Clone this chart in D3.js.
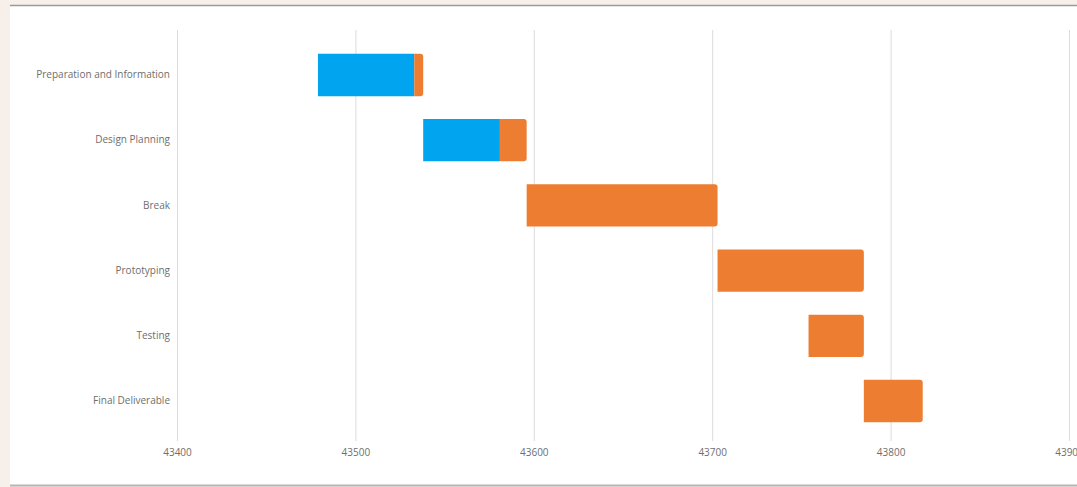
<!DOCTYPE html>
<html>
<head>
<meta charset="utf-8">
<title>Project Gantt</title>
<script src="https://cdn.jsdelivr.net/npm/d3@7"></script>
<style>
  body { margin: 0; background: #f7efe9; }
  svg { display: block; }
  .axis text { font-family: "Open Sans", sans-serif; font-size: 10px; fill: #6e6e6e; }
</style>
</head>
<body>
<div id="chart"></div>
<script>
// tasks (top to bottom)
var tasks = ["Preparation and Information", "Design Planning", "Break",
             "Prototyping", "Testing", "Final Deliverable"];
// start day (hidden series), days done, days remaining
var startDays = [43479, 43538, 43596, 43703, 43754, 43785];
var doneDays = [54, 43, 0, 0, 0, 0];
var remainDays = [5, 15, 107, 82, 31, 33];
var xTicks = [43400, 43500, 43600, 43700, 43800, 43900];

var width = 1077, height = 487;
var colors = { done: "#00a4ef", remain: "#ed7d31" };

var svg = d3.select("#chart").append("svg")
    .attr("width", width)
    .attr("height", height);

// white card with the grey rules at top and bottom
svg.append("rect")
    .attr("x", 10).attr("y", 5)
    .attr("width", width - 10).attr("height", 480)
    .attr("fill", "#fff");
svg.append("line")
    .attr("x1", 10).attr("x2", width).attr("y1", 5.5).attr("y2", 5.5)
    .attr("stroke", "#9a9a9a").attr("stroke-width", 1.5);
svg.append("line")
    .attr("x1", 10).attr("x2", width).attr("y1", 485.5).attr("y2", 485.5)
    .attr("stroke", "#b5b5b5").attr("stroke-width", 2);

var x = d3.scaleLinear()
    .domain([43400, 43900])
    .range([177, 1069]);

var y = d3.scaleBand()
    .domain(tasks)
    .range([42, 434])
    .paddingInner(0.35)
    .paddingOuter(0.18);

// gridlines
svg.append("g")
    .selectAll("line")
    .data(xTicks)
    .enter().append("line")
      .attr("x1", function(d) { return x(d) + 0.5; })
      .attr("x2", function(d) { return x(d) + 0.5; })
      .attr("y1", 30)
      .attr("y2", 441)
      .attr("stroke", "#dcdcdc")
      .attr("stroke-width", 1);

// x axis labels
var xAxis = d3.axisBottom(x)
    .tickValues(xTicks)
    .tickFormat(d3.format("d"))
    .tickSize(0)
    .tickPadding(0);

svg.append("g")
    .attr("class", "axis")
    .attr("transform", "translate(0,449)")
    .call(xAxis)
    .call(function(g) { g.select(".domain").remove(); });

// y axis labels
var yAxis = d3.axisLeft(y)
    .tickSize(0)
    .tickPadding(7);

svg.append("g")
    .attr("class", "axis")
    .attr("transform", "translate(177,0)")
    .call(yAxis)
    .call(function(g) { g.select(".domain").remove(); });

// build stacked segments
var segments = [];
tasks.forEach(function(t, i) {
    var s = startDays[i];
    if (doneDays[i] > 0) {
        segments.push({ task: t, x0: s, x1: s + doneDays[i], kind: "done", last: remainDays[i] === 0 });
    }
    if (remainDays[i] > 0) {
        segments.push({ task: t, x0: s + doneDays[i], x1: s + doneDays[i] + remainDays[i], kind: "remain", last: true });
    }
});

svg.append("g")
    .selectAll("path")
    .data(segments)
    .enter().append("path")
      .attr("fill", function(d) { return colors[d.kind]; })
      .attr("d", function(d) {
          var x0 = x(d.x0), x1 = x(d.x1);
          var y0 = y(d.task), h = y.bandwidth();
          var r = d.last ? Math.min(3, x1 - x0) : 0;
          return "M" + x0 + "," + y0 +
                 "H" + (x1 - r) +
                 "Q" + x1 + "," + y0 + " " + x1 + "," + (y0 + r) +
                 "V" + (y0 + h - r) +
                 "Q" + x1 + "," + (y0 + h) + " " + (x1 - r) + "," + (y0 + h) +
                 "H" + x0 + "Z";
      });
</script>
</body>
</html>
